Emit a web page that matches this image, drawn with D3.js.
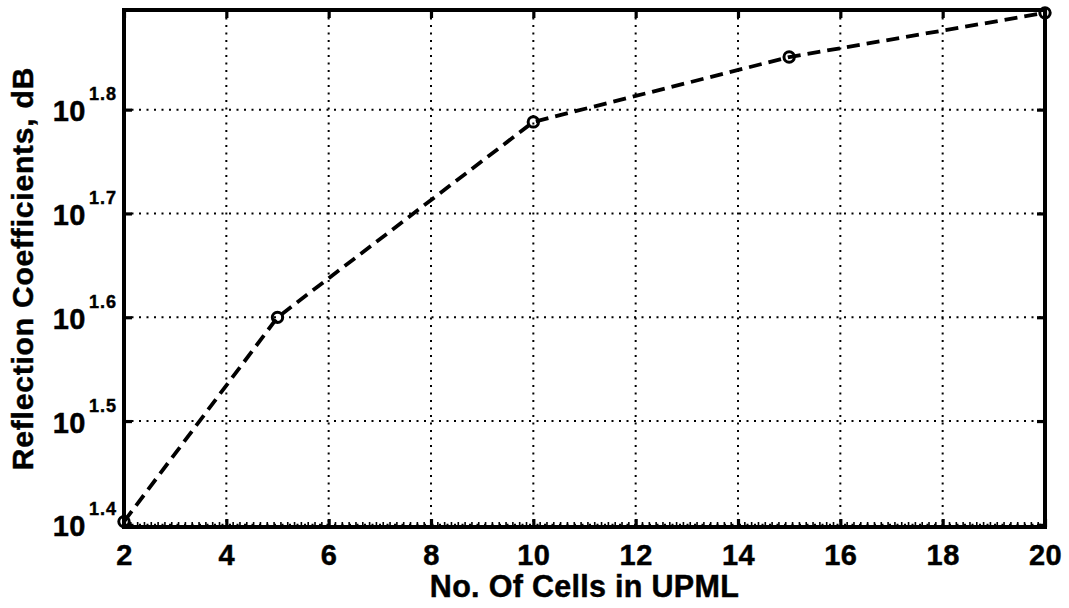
<!DOCTYPE html>
<html>
<head>
<meta charset="utf-8">
<script src="https://cdn.jsdelivr.net/npm/d3@7"></script>
<style>
  html, body { margin: 0; padding: 0; background: #fff; }
  svg { display: block; font-family: "Liberation Sans", Arial, sans-serif; font-weight: bold; }
  .lbl { stroke: #000; stroke-width: 0.45; paint-order: stroke; }
</style>
</head>
<body>
<svg id="chart" width="1069" height="608"></svg>
<script>
// Reflection coefficient vs. number of UPML cells
const cells = [2, 5, 10, 15, 20];
const reflection = [25.3, 39.8, 61.4, 70.9, 78.2];
const xTicks = [2, 4, 6, 8, 10, 12, 14, 16, 18, 20];
const yTickExponents = [1.4, 1.5, 1.6, 1.7, 1.8];
const xDomain = [2, 20];
const yDomain = [25, 78.7];
const xLabel = "No. Of Cells in UPML";
const yLabel = "Reflection Coefficients, dB";

const margin = { left: 124, right: 24, top: 10, bottom: 81 };
const W = 1069, H = 608;
const iw = W - margin.left - margin.right;
const ih = H - margin.top - margin.bottom;
const FONT = "Liberation Sans, Arial, sans-serif";

const svg = d3.select("#chart");
const g = svg.append("g").attr("transform", `translate(${margin.left},${margin.top})`);

const x = d3.scaleLinear().domain(xDomain).range([0, iw]);
const y = d3.scaleLog().domain(yDomain).range([ih, 0]);

// dotted grid at the major ticks
const grid = g.append("g").attr("stroke", "#000").attr("stroke-width", 2)
  .attr("stroke-dasharray", "2,5.5").attr("fill", "none");
grid.selectAll("line.gx").data(xTicks.filter(d => d > xDomain[0] && d < xDomain[1]))
  .join("line").attr("class", "gx")
  .attr("x1", d => x(d)).attr("x2", d => x(d)).attr("y1", 0).attr("y2", ih);
grid.selectAll("line.gy").data(yTickExponents.map(e => Math.pow(10, e)).filter(v => y(v) > 2 && y(v) < ih - 2))
  .join("line").attr("class", "gy")
  .attr("y1", d => y(d)).attr("y2", d => y(d)).attr("x1", 0).attr("x2", iw);

// dashed data line with open circle markers
const pts = cells.map((c, i) => [c, reflection[i]]);
g.append("path").datum(pts)
  .attr("fill", "none").attr("stroke", "#000").attr("stroke-width", 3.8)
  .attr("stroke-dasharray", "13,7")
  .attr("d", d3.line().x(d => x(d[0])).y(d => y(d[1])));
g.selectAll("circle.mk").data(pts).join("circle").attr("class", "mk")
  .attr("cx", d => x(d[0])).attr("cy", d => y(d[1])).attr("r", 5.2)
  .attr("fill", "none").attr("stroke", "#000").attr("stroke-width", 3);

// minor ticks along the bottom axis
const minorStep = 2 / 15;
const minor = d3.range(xDomain[0], xDomain[1] + 1e-9, minorStep)
  .filter(v => !xTicks.some(t => Math.abs(t - v) < 1e-6));
g.append("g").selectAll("line").data(minor).join("line")
  .attr("x1", d => x(d)).attr("x2", d => x(d)).attr("y1", ih).attr("y2", ih - 5)
  .attr("stroke", "#000").attr("stroke-width", 1.6);

// axes (inward ticks on all four sides)
const styleAxis = sel => {
  sel.select(".domain").remove();
  sel.selectAll(".tick line").attr("stroke", "#000").attr("stroke-width", 3.2);
};
const xb = g.append("g").attr("transform", `translate(0,${ih})`)
  .call(d3.axisBottom(x).tickValues(xTicks).tickSizeInner(-8).tickSizeOuter(0).tickPadding(17).tickFormat(d3.format("d")));
styleAxis(xb);
xb.selectAll(".tick text").attr("class", "lbl").attr("font-size", 29).attr("font-weight", "bold")
  .attr("fill", "#000").attr("font-family", FONT).attr("letter-spacing", 0.5);

const xt = g.append("g")
  .call(d3.axisTop(x).tickValues(xTicks).tickSizeInner(-8).tickSizeOuter(0).tickFormat(""));
styleAxis(xt);

const yl = g.append("g")
  .call(d3.axisLeft(y).tickValues(yTickExponents.map(e => Math.pow(10, e))).tickSizeInner(-8).tickSizeOuter(0).tickFormat(""));
styleAxis(yl);
yl.selectAll(".tick").each(function(d, i) {
  const t = d3.select(this).append("text").attr("class", "lbl")
    .attr("x", -7).attr("y", 11).attr("text-anchor", "end").attr("fill", "#000")
    .attr("font-family", FONT).attr("font-weight", "bold");
  t.append("tspan").attr("font-size", 29).attr("letter-spacing", 0.5).text("10");
  t.append("tspan").attr("font-size", 18).attr("letter-spacing", 1).attr("dx", 3).attr("dy", -21)
    .text(yTickExponents[i].toFixed(1));
});

const yr = g.append("g").attr("transform", `translate(${iw},0)`)
  .call(d3.axisRight(y).tickValues(yTickExponents.map(e => Math.pow(10, e))).tickSizeInner(-8).tickSizeOuter(0).tickFormat(""));
styleAxis(yr);

// axes box
g.append("rect").attr("x", 0).attr("y", 0).attr("width", iw).attr("height", ih)
  .attr("fill", "none").attr("stroke", "#000").attr("stroke-width", 4);

// axis titles
svg.append("text").attr("class", "lbl").attr("x", margin.left + iw / 2).attr("y", 597)
  .attr("text-anchor", "middle").attr("font-size", 30.5).attr("letter-spacing", 0.3)
  .attr("fill", "#000").text(xLabel);
svg.append("text").attr("class", "lbl")
  .attr("transform", `translate(33,${margin.top + ih / 2}) rotate(-90)`)
  .attr("text-anchor", "middle").attr("font-size", 30).attr("letter-spacing", 0.8)
  .attr("fill", "#000").text(yLabel);
</script>
</body>
</html>
